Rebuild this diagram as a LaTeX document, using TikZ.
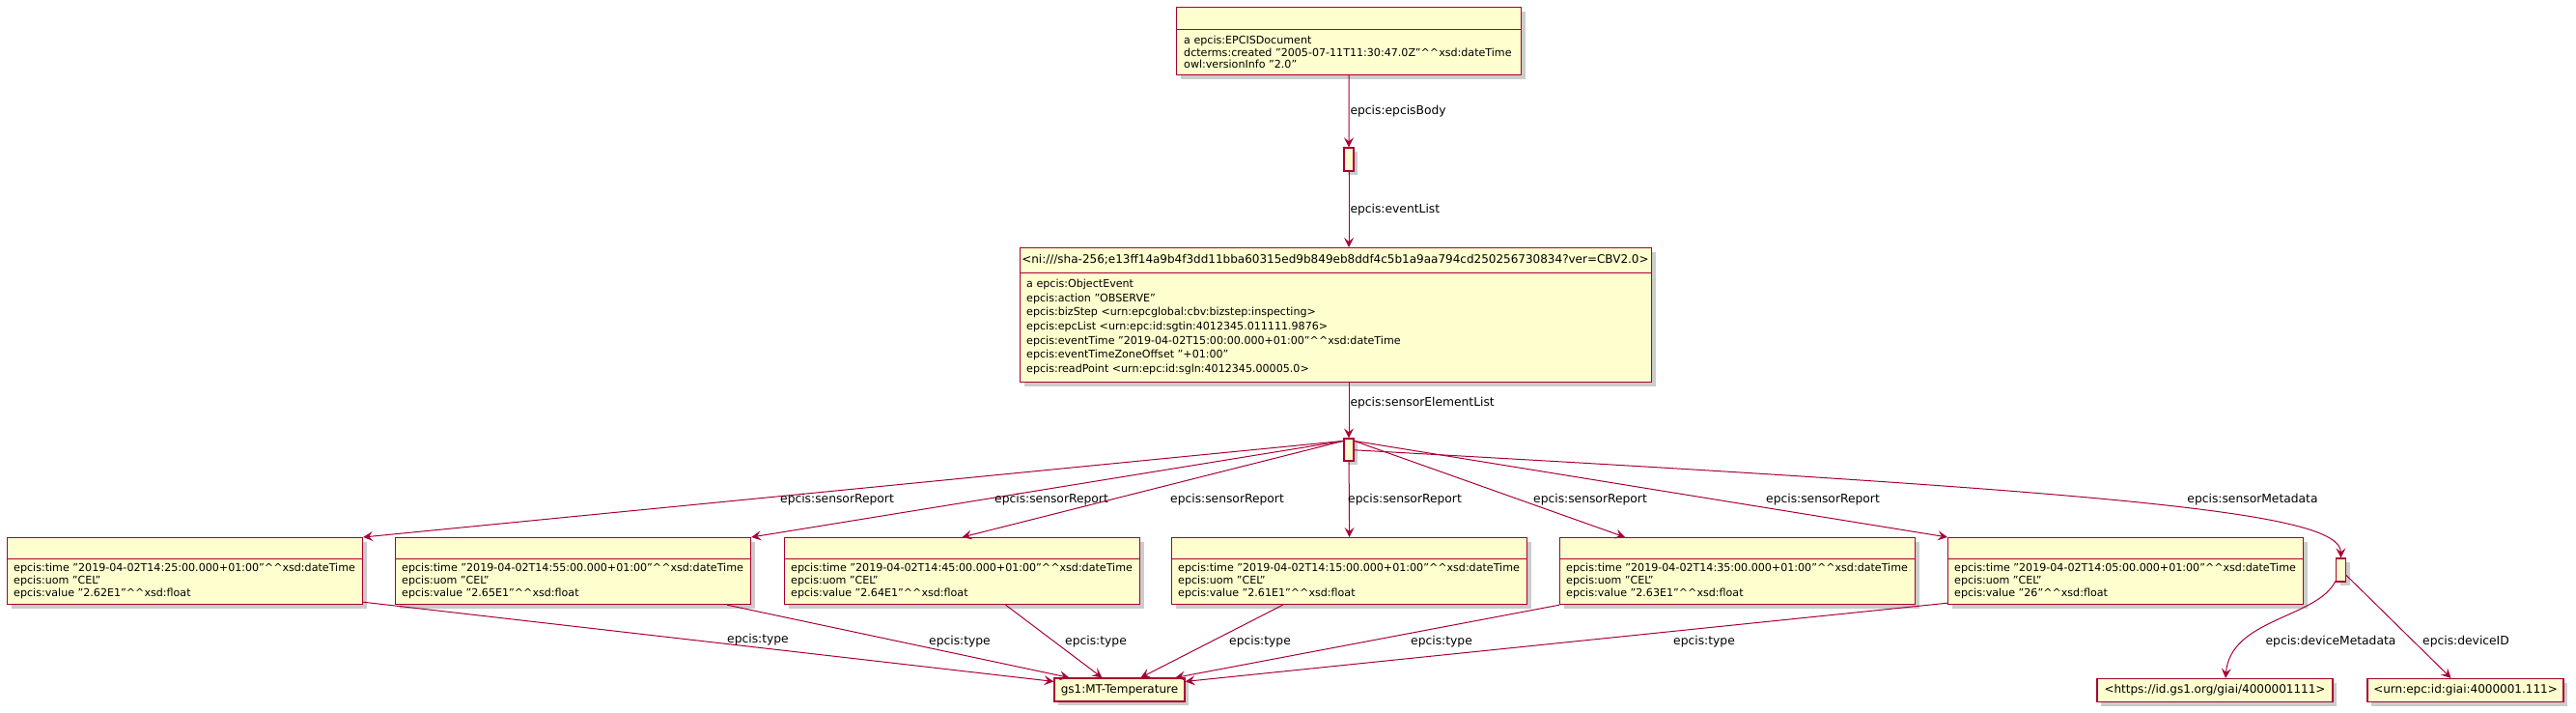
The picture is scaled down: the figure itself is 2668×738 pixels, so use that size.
\documentclass[tikz,border=0pt]{standalone}
\usepackage{fontspec}
\setmainfont{DejaVu Sans}
\usetikzlibrary{arrows.meta,shadows,calc,positioning}
\definecolor{umlline}{HTML}{A80036}
\definecolor{umlfill}{HTML}{FEFECE}
\newcommand{\xsd}[1]{\textasciicircum\textasciicircum xsd:#1}

\begin{document}
\begin{tikzpicture}[x=1pt, y=-1pt, >={Stealth[length=10pt,width=10pt,inset=4pt]},
	box/.style={draw=umlline, fill=umlfill, line width=1.2pt, inner sep=0pt, anchor=north west,
		drop shadow={shadow xshift=4pt, shadow yshift=-4pt, opacity=.2, fill=black}},
	bnode/.style={box, anchor=center, minimum width=10pt, minimum height=24pt},
	lit/.style={box, anchor=center, minimum height=24pt, font=\fontsize{12}{14}\selectfont},
	attr/.style={anchor=west, align=left, inner sep=0pt, font=\fontsize{11.1}{13}\selectfont},
	link/.style={->, draw=umlline, line width=1pt},
	lbl/.style={inner sep=1pt, font=\fontsize{12.3}{14}\selectfont}]
	\path[use as bounding box, fill=white] (0,0) rectangle (2668,738);

	% document and event
	\node[box, minimum width=357pt, minimum height=70pt] (doc) at (1218,7) {};
	\draw[umlline, line width=1pt] ([yshift=-24pt]doc.north west) -- ([yshift=-24pt]doc.north east);
	\node[attr, font=\fontsize{11.1}{12.5}\selectfont] (doctxt) at (1226,54) {a epcis:EPCISDocument\\dcterms:created "2005-07-11T11:30:47.0Z"\xsd{dateTime}\\owl:versionInfo "2.0"};
	\node[bnode] (body) at (1397,165) {};
	\node[box, minimum width=654pt, minimum height=139pt] (evt) at (1056,256) {};
	\draw[umlline, line width=1pt] ([yshift=-26pt]evt.north west) -- ([yshift=-26pt]evt.north east);
	\node[inner sep=0pt, font=\fontsize{12}{14}\selectfont] (evtname) at (1383,269) {<ni:///sha-256;e13ff14a9b4f3dd11bba60315ed9b849eb8ddf4c5b1a9aa794cd250256730834?ver=CBV2.0>};
	\node[attr, font=\fontsize{11.1}{14.6}\selectfont] (evttxt) at (1063,338.5) {a epcis:ObjectEvent\\epcis:action "OBSERVE"\\epcis:bizStep <urn:epcglobal:cbv:bizstep:inspecting>\\epcis:epcList <urn:epc:id:sgtin:4012345.011111.9876>\\epcis:eventTime "2019-04-02T15:00:00.000+01:00"\xsd{dateTime}\\epcis:eventTimeZoneOffset "+01:00"\\epcis:readPoint <urn:epc:id:sgln:4012345.00005.0>};
	\node[bnode, minimum height=23pt] (list) at (1397,465.5) {};

	% sensor reports
	\foreach \i/\x/\tm/\v in {1/7/14:25/2.62E1, 2/409/14:55/2.65E1, 3/812/14:45/2.64E1, 4/1213/14:15/2.61E1, 5/1615/14:35/2.63E1, 6/2017/14:05/26}{
		\node[box, minimum width=368pt, minimum height=69pt] (r\i) at (\x,556) {};
		\draw[umlline, line width=1pt] ([yshift=-22pt]r\i.north west) -- ([yshift=-22pt]r\i.north east);
		\node[attr] (r\i-txt) at (\x+7,601.5) {epcis:time "2019-04-02T\tm:00.000+01:00"\xsd{dateTime}\\epcis:uom "CEL"\\epcis:value "\v"\xsd{float}};
	}
	\node[bnode] (meta) at (2424.5,590) {};
	\node[lit, minimum width=135pt] (temp) at (1159.5,714) {gs1:MT-Temperature};
	\node[lit, minimum width=244pt] (giai) at (2294,714.5) {<https://id.gs1.org/giai/4000001111>};
	\node[lit, minimum width=203pt] (devid) at (2553.5,714.5) {<urn:epc:id:giai:4000001.111>};

	\draw[link] (doc) -- node[lbl, right] (lbody) {epcis:epcisBody} (body);
	\draw[link] (body) -- node[lbl, right] (llist) {epcis:eventList} (body |- evt.north);
	\draw[link] (evt.south -| list) -- node[lbl, right, pos=.36] (lsel) {epcis:sensorElementList} (list);

	\coordinate (lsw) at ([yshift=-3pt]list.north west);
	\coordinate (lse) at ([yshift=-3pt]list.north east);
	\coordinate (r5in) at ([xshift=68pt]r5.north west);
	\foreach \tg in {r1.north east, r2.north east, r3.north}
		\draw[link] (lsw) -- (\tg);
	\draw[link] (list) -- (r4.north);
	\foreach \tg in {r5in, r6.north west}
		\draw[link] (lse) -- (\tg);
	\foreach \i/\lx in {1/867, 2/1089, 3/1271, 4/1455, 5/1647, 6/1888}
		\node[lbl] (sr\i) at (\lx,517) {epcis:sensorReport};

	\draw[link] (list) .. controls (2200,510) and (2424,530) .. (meta.north) node[lbl] (smeta) at (2333,517) {epcis:sensorMetadata};

	% types
	\draw[link] ([yshift=3pt]r1.south east) -- ([yshift=-4pt]temp.north west) node[lbl] (ty1) at (785,662) {epcis:type};
	\draw[link] ([xshift=-25pt]r2.south east) -- ([xshift=16pt]temp.north west) node[lbl] (ty2) at (994,664) {epcis:type};
	\draw[link] ([xshift=45pt]r3.south) -- ([xshift=50pt]temp.north west) node[lbl] (ty3) at (1135,664) {epcis:type};
	\draw[link] ([xshift=-69pt]r4.south) -- ([xshift=90pt]temp.north west) node[lbl] (ty4) at (1305,664) {epcis:type};
	\draw[link] (r5.south west) -- ([xshift=126pt]temp.north west) node[lbl] (ty5) at (1493,664) {epcis:type};
	\draw[link] ([yshift=2pt]r6.south west) -- ([yshift=-4pt]temp.north east) node[lbl] (ty6) at (1765,664) {epcis:type};

	% device
	\draw[link] (meta) .. controls (2400,640) and (2310,640) .. ([xshift=11pt]giai.north) node[lbl] (ldm) at (2414,664) {epcis:deviceMetadata};
	\draw[link] (meta) -- ([xshift=-15pt]devid.north) node[lbl] (ldid) at (2554,664) {epcis:deviceID};
\end{tikzpicture}
\end{document}
